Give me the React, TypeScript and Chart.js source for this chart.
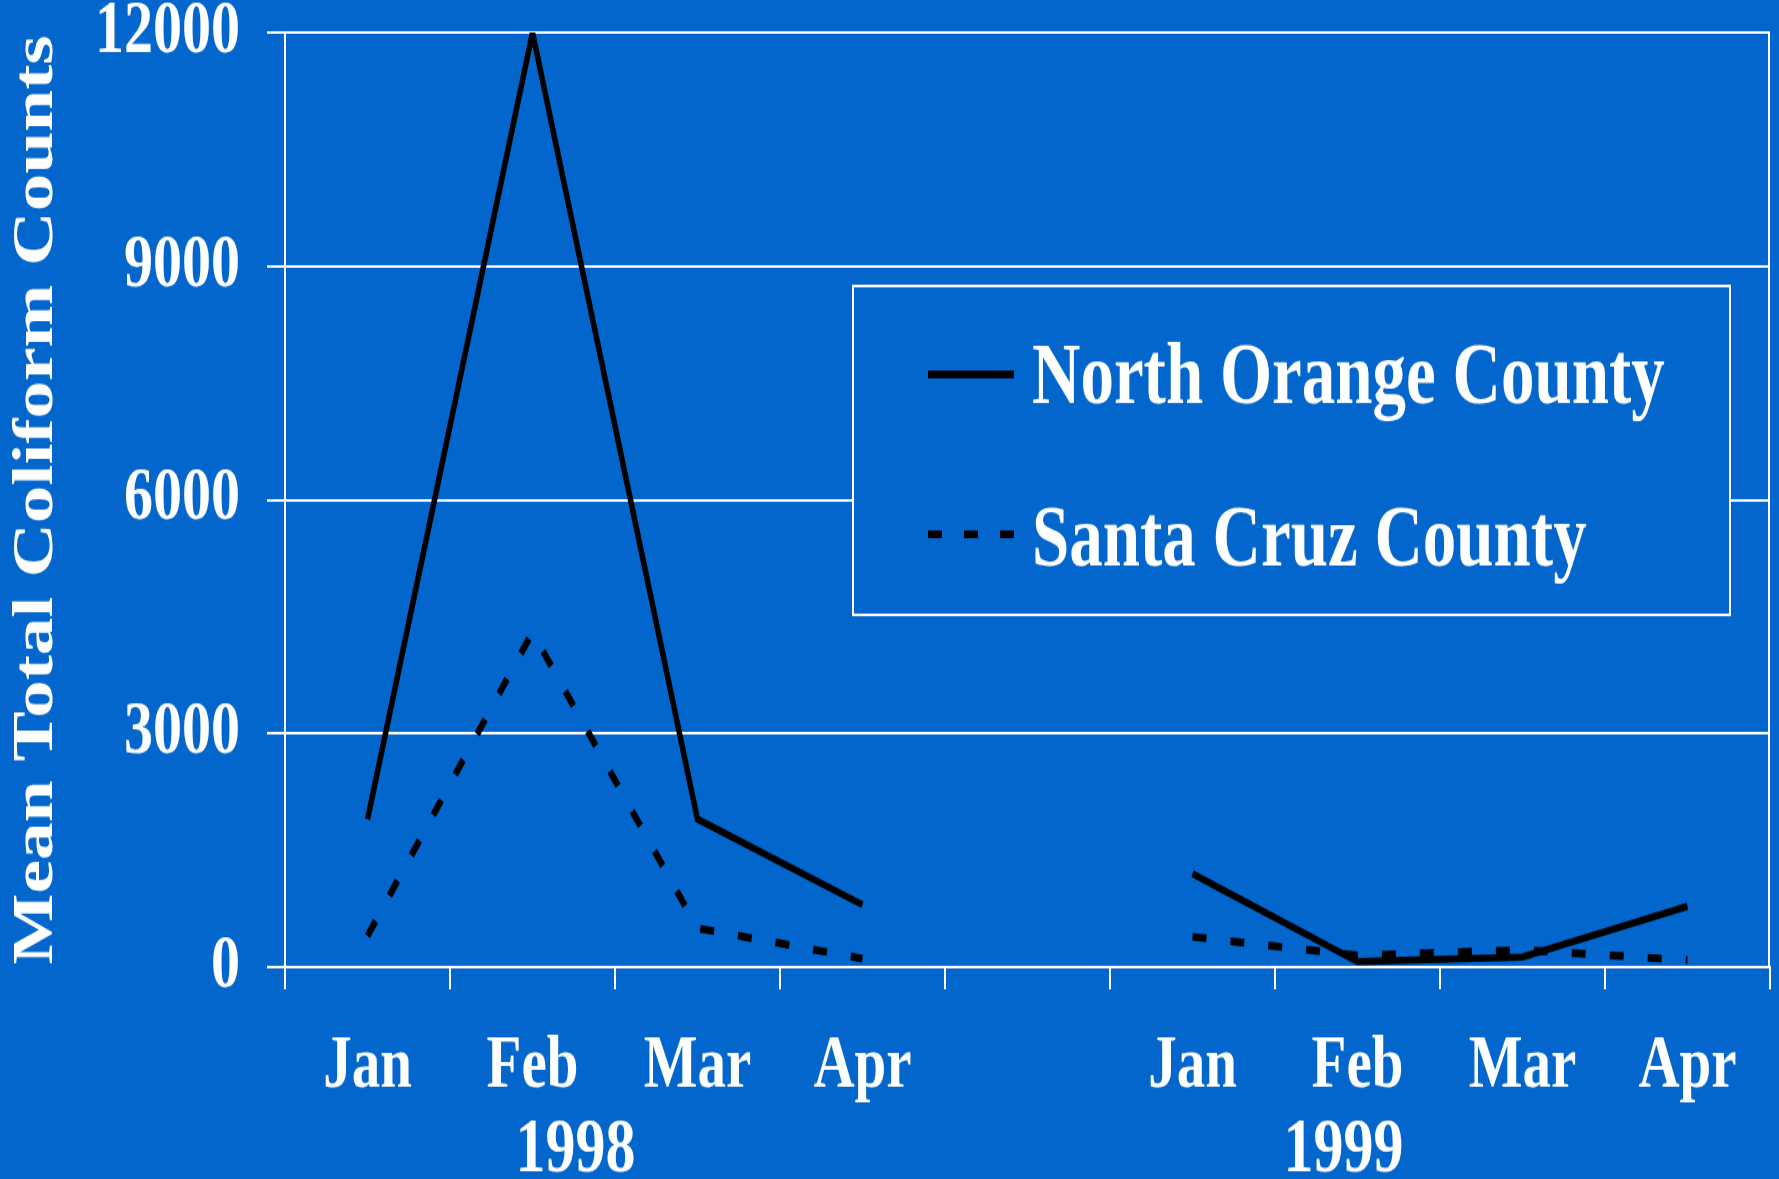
import React, { useEffect, useRef } from 'react';
import { Chart, registerables } from 'chart.js';

Chart.register(...registerables);

// ---- data ----
const categories = ['Jan', 'Feb', 'Mar', 'Apr', '', 'Jan', 'Feb', 'Mar', 'Apr'];
const northOrange = [1900, 12000, 1900, 800, null, 1200, 70, 130, 780];
const santaCruz = [400, 4300, 500, 110, null, 390, 150, 220, 90];
const yTickValues = [0, 3000, 6000, 9000, 12000];
const years = ['1998', '1999'];
const seriesNames = ['North Orange County', 'Santa Cruz County'];
const yTitle = 'Mean Total Coliform Counts';

// ---- layout ----
const W = 1779;
const H_OUT = 1179;
const STRETCH = 1.3;
const H = Math.round(H_OUT / STRETCH);
const BG = '#0366cc';
const FONT = "'Liberation Serif', 'Times New Roman', serif";

const decoPlugin = {
  id: 'deco',
  beforeDraw(chart: any) {
    const ctx = chart.ctx;
    ctx.save();
    ctx.fillStyle = BG;
    ctx.fillRect(0, 0, chart.width, chart.height);
    ctx.restore();
  },
  afterDraw(chart: any) {
    const { ctx, chartArea: a, scales } = chart;
    ctx.save();
    // right border
    ctx.strokeStyle = '#ffffff';
    ctx.lineWidth = 2;
    ctx.beginPath();
    ctx.moveTo(a.right - 1, a.top - 1);
    ctx.lineTo(a.right - 1, a.bottom);
    ctx.stroke();

    // year labels
    ctx.fillStyle = '#ffffff';
    ctx.font = `bold 60px ${FONT}`;
    ctx.textAlign = 'center';
    ctx.textBaseline = 'middle';
    const anchors = [1.26, 5.915];
    years.forEach((y, i) => {
      ctx.fillText(y, scales.x.getPixelForValue(anchors[i]), 885);
    });

    // legend box
    const bx = 853, by = 220, bw = 877, bh = 253;
    ctx.fillStyle = BG;
    ctx.fillRect(bx, by, bw, bh);
    ctx.strokeStyle = '#ffffff';
    ctx.lineWidth = 2;
    ctx.strokeRect(bx, by, bw, bh);

    const lineYs = [288, 411];
    const textYs = [310, 435];
    chart.data.datasets.forEach((ds: any, i: number) => {
      ctx.save();
      ctx.strokeStyle = '#000000';
      ctx.lineWidth = 6;
      ctx.lineCap = 'butt';
      ctx.setLineDash(ds.borderDash && ds.borderDash.length ? [14, 22] : []);
      ctx.beginPath();
      ctx.moveTo(928, lineYs[i]);
      ctx.lineTo(1014, lineYs[i]);
      ctx.stroke();
      ctx.restore();
      ctx.fillStyle = '#ffffff';
      ctx.font = `bold 67px ${FONT}`;
      ctx.textAlign = 'left';
      ctx.textBaseline = 'alphabetic';
      ctx.fillText(ds.label, 1032, textYs[i]);
    });
    ctx.restore();
  },
};

export default function App() {
  const ref = useRef<HTMLCanvasElement | null>(null);

  useEffect(() => {
    document.body.style.margin = '0';
    document.body.style.background = BG;
    const canvas = ref.current;
    if (!canvas) return;
    const chart = new Chart(canvas, {
      type: 'line',
      data: {
        labels: categories,
        datasets: [
          {
            label: seriesNames[0],
            data: northOrange,
            borderColor: '#000000',
            borderWidth: 5.5,
            borderJoinStyle: 'miter',
            pointRadius: 0,
            spanGaps: false,
            fill: false,
          },
          {
            label: seriesNames[1],
            data: santaCruz,
            borderColor: '#000000',
            borderWidth: 6,
            borderDash: [14, 24],
            borderCapStyle: 'butt',
            borderJoinStyle: 'miter',
            pointRadius: 0,
            spanGaps: false,
            fill: false,
          },
        ],
      },
      options: {
        animation: false,
        responsive: false,
        devicePixelRatio: 1,
        layout: { autoPadding: false, padding: { top: 25, right: 9, left: 0, bottom: 0 } },
        plugins: { legend: { display: false }, tooltip: { enabled: false } },
        scales: {
          x: {
            type: 'category',
            offset: true,
            afterFit: (s: any) => {
              s.height = H - 744;
              s.paddingLeft = 0;
              s.paddingRight = 0;
            },
            grid: {
              offset: true,
              drawOnChartArea: false,
              drawTicks: true,
              tickLength: 17,
              color: '#ffffff',
              lineWidth: 2,
            },
            border: { display: true, color: '#ffffff', width: 2 },
            ticks: {
              autoSkip: false,
              maxRotation: 0,
              minRotation: 0,
              padding: 26,
              color: '#ffffff',
              font: { family: FONT, size: 57, weight: 'bold' },
            },
          },
          y: {
            min: 0,
            max: 12000,
            afterFit: (s: any) => {
              s.width = 285;
              s.paddingTop = 0;
              s.paddingBottom = 0;
            },
            afterBuildTicks: (s: any) => { s.ticks = yTickValues.map((v) => ({ value: v })); },
            grid: {
              color: '#ffffff',
              lineWidth: 2,
              tickLength: 18,
              drawTicks: true,
            },
            border: { display: true, color: '#ffffff', width: 2 },
            ticks: {
              padding: 27,
              color: '#ffffff',
              font: { family: FONT, size: 58, weight: 'bold' },
              callback: (v: any) => String(v),
            },
            title: {
              display: true,
              text: yTitle,
              color: '#ffffff',
              font: { family: FONT, size: 58, weight: 'bold', lineHeight: 1 },
              padding: { top: 8, bottom: 0 },
            },
          },
        },
      },
      plugins: [decoPlugin],
    } as any);
    return () => chart.destroy();
  }, []);

  return (
    <div style={{ position: 'fixed', left: 0, top: 0, width: W, height: H_OUT, background: BG }}>
      <canvas
        ref={ref}
        width={W}
        height={H}
        style={{ width: `${W}px`, height: `${H_OUT}px`, display: 'block' }}
      />
    </div>
  );
}
